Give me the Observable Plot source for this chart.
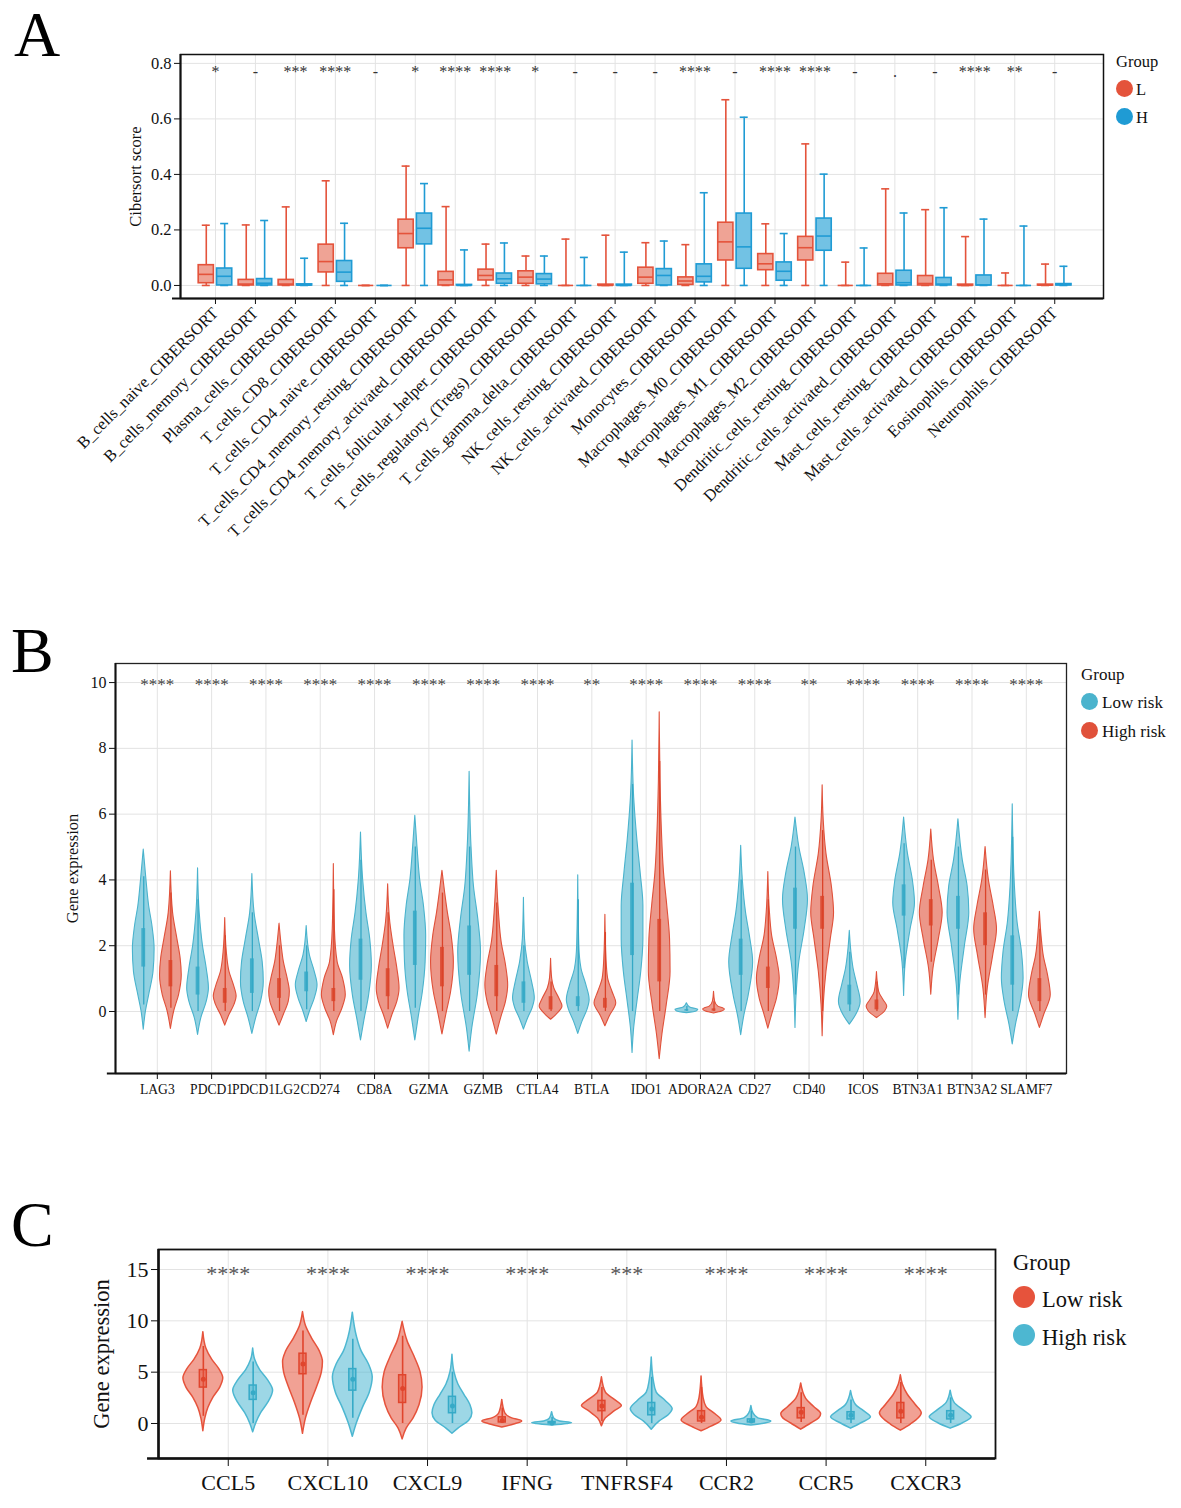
<!DOCTYPE html>
<html><head><meta charset="utf-8">
<script src="https://cdn.jsdelivr.net/npm/d3@7"></script>
<script src="https://cdn.jsdelivr.net/npm/@observablehq/plot@0.6"></script>
<style>
body{margin:0;background:#fff;font-family:"Liberation Serif","Times New Roman",serif;}
#page{position:relative;width:1181px;height:1508px;overflow:hidden;background:#fff;}
.panel{position:absolute;left:0;}
.letter{position:absolute;font-size:64px;line-height:64px;color:#000;}
.lg{position:absolute;color:#111;white-space:nowrap;}
.dot{position:absolute;border-radius:50%;}
#pB svg [aria-label^="y-axis"] text{font-size:16px;}
</style></head><body><div id="page"></div>
<script>
// ---------------- Panel A data ----------------
const cellsA = ["B_cells_naive_CIBERSORT","B_cells_memory_CIBERSORT","Plasma_cells_CIBERSORT","T_cells_CD8_CIBERSORT","T_cells_CD4_naive_CIBERSORT","T_cells_CD4_memory_resting_CIBERSORT","T_cells_CD4_memory_activated_CIBERSORT","T_cells_follicular_helper_CIBERSORT","T_cells_regulatory_(Tregs)_CIBERSORT","T_cells_gamma_delta_CIBERSORT","NK_cells_resting_CIBERSORT","NK_cells_activated_CIBERSORT","Monocytes_CIBERSORT","Macrophages_M0_CIBERSORT","Macrophages_M1_CIBERSORT","Macrophages_M2_CIBERSORT","Dendritic_cells_resting_CIBERSORT","Dendritic_cells_activated_CIBERSORT","Mast_cells_resting_CIBERSORT","Mast_cells_activated_CIBERSORT","Eosinophils_CIBERSORT","Neutrophils_CIBERSORT"];
const sigA = ["*","-","***","****","-","*","****","****","*","-","-","-","****","-","****","****","-",".","-","****","**","-"];
const ticksA = [0,0.2,0.4,0.6,0.8];
// group L
const loL  = [0,0,0,0,0,0,0,0,0,0,0,0,0,0,0,0,0,0,0,0,0,0];
const q1L  = [0.008,0,0,0.047,0,0.134,0,0.018,0.006,0,0,0.006,0.002,0.09,0.055,0.09,0,0,0,0,0,0];
const medL = [0.04,0.005,0.005,0.086,0,0.187,0.02,0.036,0.03,0,0,0.03,0.016,0.157,0.078,0.136,0,0.006,0.007,0,0,0.001];
const q3L  = [0.073,0.02,0.02,0.147,0,0.237,0.049,0.057,0.051,0,0.003,0.064,0.029,0.226,0.113,0.175,0,0.042,0.034,0.003,0,0.003];
const hiL  = [0.217,0.218,0.283,0.377,0,0.43,0.284,0.149,0.106,0.167,0.181,0.154,0.147,0.669,0.222,0.51,0.084,0.348,0.273,0.176,0.045,0.077];
// group H
const loH  = [0,0,0,0,0,0,0,0,0,0,0,0,0,0,0,0,0,0,0,0,0,0];
const q1H  = [0,0,0,0.013,0,0.148,0,0.006,0.004,0,0,0,0.011,0.06,0.017,0.125,0,0,0,0,0,0];
const medH = [0.033,0.008,0.001,0.048,0,0.206,0,0.024,0.023,0,0,0.036,0.033,0.139,0.051,0.178,0,0.01,0.005,0.002,0,0.003];
const q3H  = [0.061,0.023,0.004,0.088,0,0.259,0.002,0.043,0.041,0,0.003,0.059,0.076,0.259,0.083,0.241,0,0.053,0.027,0.036,0,0.005];
const hiH  = [0.223,0.234,0.098,0.224,0,0.367,0.128,0.153,0.106,0.101,0.12,0.16,0.334,0.606,0.187,0.401,0.135,0.261,0.28,0.239,0.214,0.069];

// ---------------- Panel B data ----------------
const genesB = ["LAG3","PDCD1","PDCD1LG2","CD274","CD8A","GZMA","GZMB","CTLA4","BTLA","IDO1","ADORA2A","CD27","CD40","ICOS","BTN3A1","BTN3A2","SLAMF7"];
const sigB = ["****","****","****","****","****","****","****","****","**","****","****","****","**","****","****","****","****"];
const ticksB = [0,2,4,6,8,10];
// violin outlines: [value, half-width in category units]
const violinB_low = [
 [[-0.55,0],[0,0.04],[0.5,0.1],[1.2,0.18],[1.9,0.2],[2.6,0.16],[3.2,0.1],[4,0.05],[4.92,0]],
 [[-0.71,0],[-0.2,0.06],[0.3,0.16],[0.7,0.2],[1.3,0.16],[2,0.09],[3,0.03],[4.35,0]],
 [[-0.68,0],[-0.2,0.07],[0.3,0.16],[0.9,0.21],[1.5,0.19],[2.2,0.12],[3,0.04],[4.18,0]],
 [[-0.32,0],[0,0.06],[0.4,0.15],[0.8,0.2],[1.2,0.15],[1.7,0.06],[2.6,0]],
 [[-0.88,0],[-0.3,0.06],[0.5,0.15],[1.4,0.2],[2.2,0.17],[3,0.1],[4,0.04],[5.44,0]],
 [[-0.88,0],[-0.2,0.06],[0.6,0.14],[1.5,0.19],[2.3,0.2],[3.2,0.16],[4,0.09],[5,0.04],[5.95,0]],
 [[-1.22,0],[-0.5,0.05],[0.5,0.15],[1.8,0.21],[2.8,0.16],[3.8,0.08],[5,0.035],[7.29,0]],
 [[-0.55,0],[-0.2,0.08],[0.1,0.16],[0.4,0.2],[0.9,0.15],[1.5,0.07],[2.2,0.02],[3.46,0]],
 [[-0.68,0],[-0.3,0.08],[0.05,0.17],[0.35,0.21],[0.8,0.15],[1.3,0.06],[2,0.02],[4.14,0]],
 [[-1.26,0],[-0.5,0.03],[0.3,0.09],[1.2,0.16],[2.2,0.2],[3.2,0.2],[4.2,0.15],[5.2,0.09],[6.5,0.03],[8.24,0]],
 [[-0.05,0],[0,0.18],[0.05,0.21],[0.12,0.06],[0.25,0]],
 [[-0.72,0],[-0.2,0.05],[0.5,0.14],[1.5,0.22],[2.3,0.16],[3,0.09],[4,0.03],[5.04,0]],
 [[-0.5,0],[0.5,0.02],[1.5,0.07],[2.5,0.17],[3.4,0.23],[4.2,0.17],[5,0.07],[5.9,0]],
 [[-0.4,0],[-0.1,0.12],[0.3,0.2],[0.8,0.14],[1.3,0.07],[1.8,0.03],[2.45,0]],
 [[0.47,0],[1.5,0.03],[2.5,0.12],[3.3,0.2],[4,0.16],[4.8,0.07],[5.9,0]],
 [[-0.25,0],[0.8,0.03],[2,0.12],[3,0.2],[3.8,0.17],[4.6,0.08],[5.84,0]],
 [[-1,0],[-0.4,0.06],[0.3,0.15],[1,0.2],[1.8,0.17],[2.7,0.09],[3.8,0.04],[6.3,0]]
];
const violinB_high = [
 [[-0.53,0],[0,0.06],[0.5,0.15],[1.1,0.2],[1.6,0.18],[2.2,0.12],[3,0.04],[4.26,0]],
 [[-0.43,0],[-0.1,0.08],[0.2,0.17],[0.45,0.21],[0.8,0.16],[1.2,0.08],[1.8,0.03],[2.84,0]],
 [[-0.43,0],[-0.1,0.08],[0.3,0.17],[0.6,0.19],[1,0.15],[1.5,0.08],[2,0.04],[2.67,0]],
 [[-0.72,0],[-0.3,0.06],[0.1,0.16],[0.5,0.22],[1,0.17],[1.5,0.07],[2.5,0.02],[4.48,0]],
 [[-0.52,0],[-0.1,0.08],[0.3,0.17],[0.7,0.21],[1.3,0.17],[2,0.1],[2.7,0.04],[3.87,0]],
 [[-0.7,0],[-0.1,0.07],[0.6,0.16],[1.5,0.21],[2.3,0.17],[3,0.1],[3.6,0.05],[4.28,0]],
 [[-0.7,0],[-0.2,0.08],[0.3,0.17],[0.8,0.21],[1.4,0.17],[2.1,0.09],[3,0.04],[4.28,0]],
 [[-0.25,0],[-0.1,0.1],[0.15,0.21],[0.4,0.15],[0.7,0.06],[1,0.02],[1.6,0]],
 [[-0.45,0],[-0.15,0.08],[0.25,0.2],[0.6,0.13],[1,0.05],[1.6,0.02],[2.94,0]],
 [[-1.45,0],[-0.7,0.05],[0.2,0.13],[1.2,0.2],[2.2,0.19],[3.2,0.14],[4.2,0.08],[5.5,0.04],[7,0.015],[9.1,0]],
 [[-0.06,0],[0,0.15],[0.06,0.2],[0.15,0.08],[0.3,0.02],[0.6,0]],
 [[-0.52,0],[-0.1,0.07],[0.4,0.16],[1,0.21],[1.6,0.16],[2.3,0.07],[3,0.03],[4.24,0]],
 [[-0.75,0],[0.2,0.02],[1.2,0.07],[2.2,0.15],[3,0.21],[3.8,0.17],[4.8,0.07],[5.8,0.02],[6.88,0]],
 [[-0.2,0],[0,0.15],[0.15,0.19],[0.35,0.12],[0.6,0.04],[1.2,0]],
 [[0.51,0],[1.3,0.04],[2.2,0.14],[3,0.21],[3.8,0.14],[4.6,0.05],[5.53,0]],
 [[-0.2,0],[0.7,0.04],[1.7,0.14],[2.5,0.21],[3.2,0.15],[4,0.06],[5,0]],
 [[-0.5,0],[-0.1,0.08],[0.5,0.2],[1.1,0.15],[1.7,0.07],[2.3,0.03],[3.03,0]]
];
// inner boxes: [whisker low, q1, q3, whisker high]
const boxB_low = [[0.2,1.35,2.52,4.1],[0,0.5,1.35,3.4],[0,0.55,1.6,3],[0.05,0.6,1.2,2.0],[0,0.95,2.2,4.6],[0.1,1.4,3.05,5],[0,1.1,2.6,5],[0,0.25,0.9,2],[0,0.15,0.45,3.4],[0,1.7,3.9,6.9],[0,0.01,0.06,0.15],[0,1.1,2.2,4],[0.5,2.5,3.75,5],[0,0.2,0.8,1.8],[1.3,2.9,3.85,5.1],[0.5,2.5,3.5,5],[0,0.8,2.3,5.3]];
const boxB_high = [[0.1,0.75,1.55,3.6],[0,0.25,0.7,2.3],[0,0.4,1.0,2],[0,0.3,0.7,3.7],[0.05,0.45,1.3,3],[0,0.75,1.95,3.6],[0,0.45,1.4,3.3],[0,0.05,0.45,0.9],[0,0.1,0.4,2.4],[0,0.9,2.8,7.6],[0,0.01,0.08,0.3],[0,0.7,1.35,3.4],[0,2.5,3.5,5.5],[0,0.05,0.35,0.9],[1.5,2.6,3.4,4.6],[0.5,2,3,4.3],[0,0.3,1.0,2.5]];

// ---------------- Panel C data ----------------
const genesC = ["CCL5","CXCL10","CXCL9","IFNG","TNFRSF4","CCR2","CCR5","CXCR3"];
const sigC = ["****","****","****","****","***","****","****","****"];
const ticksC = [0,5,10,15];
const violinC_low = [
 [[-0.75,0],[0.5,0.02],[1.5,0.05],[2.5,0.1],[3.5,0.17],[4.4,0.2],[5.3,0.16],[6.2,0.09],[7.3,0.03],[8.9,0]],
 [[-1,0],[0.5,0.03],[2,0.08],[3.5,0.14],[5,0.19],[6,0.2],[7,0.17],[8.3,0.09],[9.5,0.03],[10.85,0]],
 [[-1.55,0],[-0.5,0.04],[0.5,0.11],[1.8,0.17],[3.5,0.2],[5,0.18],[6.5,0.12],[8,0.05],[9.9,0]],
 [[-0.4,0],[-0.1,0.12],[0.2,0.2],[0.5,0.1],[1,0.03],[2.3,0]],
 [[-0.26,0],[0.5,0.04],[1.2,0.13],[1.7,0.2],[2.3,0.13],[3,0.04],[4.5,0]],
 [[-0.75,0],[-0.3,0.1],[0.3,0.2],[0.9,0.14],[1.6,0.05],[2.5,0.02],[4.59,0]],
 [[-0.6,0],[0,0.1],[0.5,0.18],[0.9,0.2],[1.6,0.13],[2.4,0.05],[3.9,0]],
 [[-0.7,0],[-0.1,0.1],[0.5,0.18],[1,0.21],[1.8,0.15],[2.8,0.07],[3.8,0.02],[4.69,0]]
];
const violinC_high = [
 [[-0.85,0],[0,0.03],[1,0.08],[2,0.15],[3.2,0.2],[4.2,0.15],[5.2,0.07],[6.2,0.02],[7.3,0]],
 [[-1.3,0],[0,0.04],[1.5,0.1],[3,0.17],[4.5,0.2],[5.8,0.16],[7,0.09],[8.5,0.04],[10.8,0]],
 [[-1,0],[-0.5,0.06],[0.3,0.17],[1,0.2],[1.8,0.18],[2.8,0.12],[3.8,0.06],[5,0.02],[6.7,0]],
 [[-0.2,0],[-0.05,0.15],[0.05,0.2],[0.2,0.08],[0.5,0.02],[1.1,0]],
 [[-0.6,0],[0.2,0.08],[0.8,0.17],[1.4,0.21],[2.2,0.14],[3,0.05],[4.2,0.02],[6.42,0]],
 [[-0.2,0],[0,0.14],[0.2,0.2],[0.5,0.07],[1,0.02],[1.7,0]],
 [[-0.5,0],[0,0.1],[0.6,0.2],[1.2,0.13],[1.8,0.05],[3.16,0]],
 [[-0.5,0],[0,0.12],[0.6,0.21],[1.2,0.14],[2,0.04],[3.2,0]]
];
// inner boxes: [whisker low, q1, median, q3, whisker high]
const boxC_low = [[0.7,3.5,4.3,5.2,7.5],[0.8,4.8,5.8,6.8,9],[0,2,3.4,4.7,8.5],[0,0.1,0.3,0.6,1.5],[0.2,1.2,1.7,2.2,3.5],[0,0.2,0.6,1.2,3.5],[0.1,0.5,1.1,1.5,3],[0,0.5,1.2,2.0,4]];
const boxC_high = [[0,2.3,3,3.7,6],[0.5,3.2,4.3,5.3,8.2],[0,1,1.7,2.6,5],[0,0,0.05,0.15,0.6],[0,0.8,1.4,2.0,4.5],[0,0.1,0.25,0.4,1.2],[0,0.4,0.8,1.1,2.3],[0,0.4,0.8,1.2,2.5]];

// ---------------- helpers ----------------
const page = document.getElementById("page");
function place(el, top, id){ const d=document.createElement("div"); d.className="panel"; if(id) d.id=id; d.style.top=top+"px"; d.appendChild(el); page.appendChild(d); }
function addText(txt, left, cy, size, cls){ const d=document.createElement("div"); d.className=cls||"lg"; d.textContent=txt; d.style.left=left+"px"; d.style.top=(cy-size*0.6)+"px"; d.style.fontSize=size+"px"; d.style.lineHeight=(size*1.2)+"px"; page.appendChild(d); }
function addDot(cx, cy, r, color){ const d=document.createElement("div"); d.className="dot"; d.style.left=(cx-r)+"px"; d.style.top=(cy-r)+"px"; d.style.width=(2*r)+"px"; d.style.height=(2*r)+"px"; d.style.background=color; page.appendChild(d); }
function letter(t, left, top){ const d=document.createElement("div"); d.className="letter"; d.textContent=t; d.style.left=left+"px"; d.style.top=top+"px"; page.appendChild(d); }
const grid = "#e3e3e3";

// ---------------- Panel A ----------------
{
  const off=0.23, bw=0.19, cap=0.1;
  const col={L:"#E4533B",H:"#1F9BD4"}, fil={L:"#EFA395",H:"#72C2E4"};
  const rows=[];
  cellsA.forEach((c,i)=>{
    rows.push({x:i-off,g:"L",lo:loL[i],q1:q1L[i],med:medL[i],q3:q3L[i],hi:hiL[i]});
    rows.push({x:i+off,g:"H",lo:loH[i],q1:q1H[i],med:medH[i],q3:q3H[i],hi:hiH[i]});
  });
  const xd=[-0.875,22.22], yd=[-0.047,0.832];
  const p = Plot.plot({
    width:1181, height:560, marginLeft:180, marginRight:78, marginTop:54, marginBottom:262,
    style:{fontFamily:"Liberation Serif", fontSize:"16.5px", color:"#111", background:"transparent"},
    color:{type:"identity"},
    x:{domain:xd, ticks:d3.range(cellsA.length), tickFormat:i=>cellsA[i], tickRotate:-45, tickSize:6, label:null},
    y:{domain:yd, ticks:ticksA, tickFormat:d3.format(".1f"), tickSize:6, label:null},
    marks:[
      Plot.ruleY(ticksA,{stroke:grid}),
      Plot.ruleX(d3.range(cellsA.length),{stroke:grid}),
      Plot.ruleX(rows,{x:"x",y1:"lo",y2:"hi",stroke:d=>col[d.g],strokeWidth:1.6}),
      Plot.ruleY(rows,{y:"hi",x1:d=>d.x-cap,x2:d=>d.x+cap,stroke:d=>col[d.g],strokeWidth:1.6}),
      Plot.ruleY(rows,{y:"lo",x1:d=>d.x-cap,x2:d=>d.x+cap,stroke:d=>col[d.g],strokeWidth:1.6}),
      Plot.rect(rows,{x1:d=>d.x-bw,x2:d=>d.x+bw,y1:"q1",y2:"q3",fill:d=>fil[d.g],stroke:d=>col[d.g],strokeWidth:1.6}),
      Plot.ruleY(rows,{y:"med",x1:d=>d.x-bw,x2:d=>d.x+bw,stroke:d=>col[d.g],strokeWidth:1.6}),
      Plot.text(sigA,{x:(d,i)=>i,y:0.775,text:d=>d,fontSize:16,fill:"#333",dy:2}),
      Plot.frame({stroke:"#111",strokeWidth:1.5}),
      Plot.ruleX([xd[0]],{stroke:"#111",strokeWidth:2}),
      Plot.ruleY([yd[0]],{x1:xd[0]-0.2,x2:xd[1],stroke:"#111",strokeWidth:2}),
      Plot.text(["Cibersort score"],{frameAnchor:"left",textAnchor:"middle",dx:-45,rotate:-90,fontSize:16.5,fill:"#111"})
    ]
  });
  place(p, 0, "pA");
  letter("A", 14, 3);
  addText("Group", 1116, 62, 16.5);
  addDot(1124, 88, 8.5, "#E4533B"); addText("L", 1136, 90, 16.5);
  addDot(1124, 116, 8.5, "#1F9BD4"); addText("H", 1136, 118, 16.5);
}

// ---------------- Panel B ----------------
{
  const off=0.25, bhalf=0.035;
  const col={low:"#4AB3CD",high:"#E0513A"}, dark={low:"#34A8C5",high:"#DB4329"};
  const vrows=[], brows=[];
  genesB.forEach((g,i)=>{
    violinB_low[i].forEach(([y,w])=>vrows.push({vid:"l"+i,g:"low",cx:i-off,y,w}));
    violinB_high[i].forEach(([y,w])=>vrows.push({vid:"h"+i,g:"high",cx:i+off,y,w}));
    const a=boxB_low[i], b=boxB_high[i];
    brows.push({g:"low",cx:i-off,lo:a[0],q1:a[1],q3:a[2],hi:a[3]});
    brows.push({g:"high",cx:i+off,lo:b[0],q1:b[1],q3:b[2],hi:b[3]});
  });
  const xd=[-0.77,16.74], yd=[-1.885,10.58];
  const p = Plot.plot({
    width:1181, height:520, marginLeft:115, marginRight:115, marginTop:63, marginBottom:47,
    style:{fontFamily:"Liberation Serif", fontSize:"13.6px", color:"#111", background:"transparent"},
    color:{type:"identity"},
    x:{domain:xd, ticks:d3.range(genesB.length), tickFormat:i=>genesB[i], tickSize:6, tickPadding:5, label:null},
    y:{domain:yd, ticks:ticksB, tickSize:6, label:null},
    marks:[
      Plot.ruleY(ticksB,{stroke:grid}),
      Plot.ruleX(d3.range(genesB.length),{stroke:grid}),
      Plot.areaX(vrows,{y:"y",x1:d=>d.cx-d.w,x2:d=>d.cx+d.w,z:"vid",fill:d=>col[d.g],fillOpacity:0.6,stroke:d=>col[d.g],strokeWidth:1.1,curve:"monotone-y"}),
      Plot.ruleX(brows,{x:"cx",y1:"lo",y2:"hi",stroke:d=>dark[d.g],strokeWidth:1.3}),
      Plot.rect(brows,{x1:d=>d.cx-bhalf,x2:d=>d.cx+bhalf,y1:"q1",y2:"q3",fill:d=>dark[d.g],fillOpacity:0.85}),
      Plot.text(sigB,{x:(d,i)=>i,y:10,text:d=>d,fontSize:17,fill:"#444",dy:2}),
      Plot.frame({stroke:"#222",strokeWidth:1.3}),
      Plot.ruleX([xd[0]],{stroke:"#111",strokeWidth:2}),
      Plot.ruleY([yd[0]],{x1:xd[0]-0.15,x2:xd[1],stroke:"#111",strokeWidth:2}),
      Plot.text(["Gene expression"],{frameAnchor:"left",textAnchor:"middle",dx:-43,rotate:-90,fontSize:16.5,fill:"#111"})
    ]
  });
  place(p, 600, "pB");
  letter("B", 11, 619);
  addText("Group", 1081, 675, 17);
  addDot(1089, 701, 8.5, "#4AB3CD"); addText("Low risk", 1102, 703, 17);
  addDot(1089, 730, 8.5, "#E0513A"); addText("High risk", 1102, 732, 17);
}

// ---------------- Panel C ----------------
{
  const off=0.25, bhalf=0.035;
  const col={low:"#E6533C",high:"#4DB7D1"}, dark={low:"#E0452D",high:"#36AAC7"};
  const vrows=[], brows=[];
  genesC.forEach((g,i)=>{
    violinC_low[i].forEach(([y,w])=>vrows.push({vid:"l"+i,g:"low",cx:i-off,y,w}));
    violinC_high[i].forEach(([y,w])=>vrows.push({vid:"h"+i,g:"high",cx:i+off,y,w}));
    const a=boxC_low[i], b=boxC_high[i];
    brows.push({g:"low",cx:i-off,lo:a[0],q1:a[1],med:a[2],q3:a[3],hi:a[4]});
    brows.push({g:"high",cx:i+off,lo:b[0],q1:b[1],med:b[2],q3:b[3],hi:b[4]});
  });
  const xd=[-0.7,7.7], yd=[-3.41,16.95];
  const p = Plot.plot({
    width:1181, height:308, marginLeft:158, marginRight:186, marginTop:49, marginBottom:50,
    style:{fontFamily:"Liberation Serif", fontSize:"22px", color:"#111", background:"transparent"},
    color:{type:"identity"},
    x:{domain:xd, ticks:d3.range(genesC.length), tickFormat:i=>genesC[i], tickSize:8, tickPadding:8, label:null},
    y:{domain:yd, ticks:ticksC, tickSize:7, label:null},
    marks:[
      Plot.ruleY(ticksC,{stroke:grid}),
      Plot.ruleX(d3.range(genesC.length),{stroke:grid}),
      Plot.areaX(vrows,{y:"y",x1:d=>d.cx-d.w,x2:d=>d.cx+d.w,z:"vid",fill:d=>col[d.g],fillOpacity:0.55,stroke:d=>col[d.g],strokeWidth:1.5,curve:"monotone-y"}),
      Plot.ruleX(brows,{x:"cx",y1:"lo",y2:"hi",stroke:d=>dark[d.g],strokeWidth:1.6}),
      Plot.rect(brows,{x1:d=>d.cx-bhalf,x2:d=>d.cx+bhalf,y1:"q1",y2:"q3",fill:d=>col[d.g],fillOpacity:0.5,stroke:d=>dark[d.g],strokeWidth:1.5}),
      Plot.dot(brows,{x:"cx",y:"med",r:2.5,fill:d=>dark[d.g]}),
      Plot.text(sigC,{x:(d,i)=>i,y:15,text:d=>d,fontSize:22,fill:"#555",dy:4}),
      Plot.frame({stroke:"#111",strokeWidth:1.8}),
      Plot.ruleX([xd[0]],{stroke:"#111",strokeWidth:2.5}),
      Plot.ruleY([yd[0]],{x1:xd[0]-0.11,x2:xd[1],stroke:"#111",strokeWidth:2.5}),
      Plot.text(["Gene expression"],{frameAnchor:"left",textAnchor:"middle",dx:-57,rotate:-90,fontSize:22.5,fill:"#111"})
    ]
  });
  place(p, 1200, "pC");
  letter("C", 11, 1193);
  addText("Group", 1013, 1262, 22.5);
  addDot(1024, 1297, 11, "#E6533C"); addText("Low risk", 1042, 1299, 22.5);
  addDot(1024, 1335, 11, "#4DB7D1"); addText("High risk", 1042, 1337, 22.5);
}
</script></body></html>
